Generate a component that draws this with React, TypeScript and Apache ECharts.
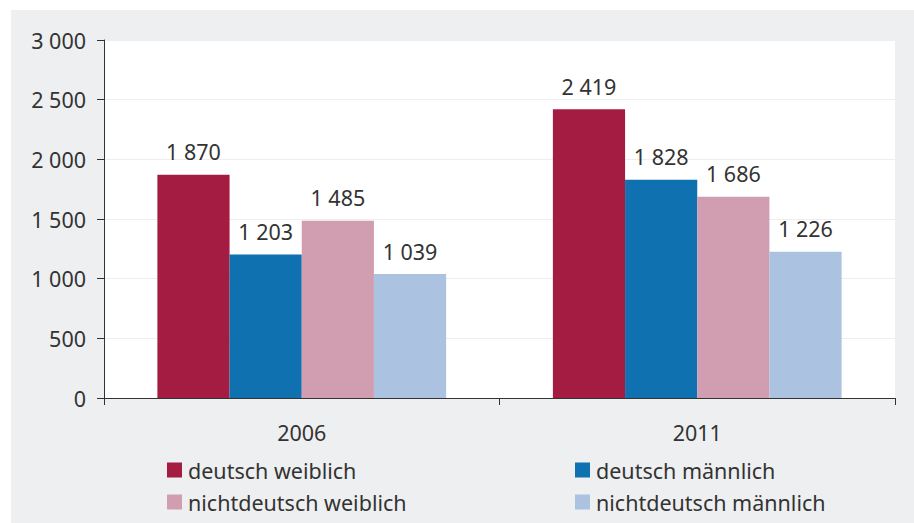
import React, { useEffect, useRef } from "react";
import * as echarts from "echarts";

const categories = ["2006", "2011"];
const seriesNames = [
  "deutsch weiblich",
  "deutsch männlich",
  "nichtdeutsch weiblich",
  "nichtdeutsch männlich",
];
const deutschWeiblich = [1870, 2419];
const deutschMaennlich = [1203, 1828];
const nichtdeutschWeiblich = [1485, 1686];
const nichtdeutschMaennlich = [1039, 1226];
const colors = ["#a51c42", "#0f71b0", "#d09db1", "#abc2e0"];

const fmt = (v: number) =>
  String(v).replace(/\B(?=(\d{3})+(?!\d))/g, " ");

const FONT = "Noto Sans";
const TXT = "#333333";
const FS = 21.5;

export default function App() {
  const ref = useRef<HTMLDivElement>(null);
  useEffect(() => {
    if (!ref.current) return;
    const chart = echarts.init(ref.current, undefined, { renderer: "svg" });
    const values = [deutschWeiblich, deutschMaennlich, nichtdeutschWeiblich, nichtdeutschMaennlich];
    const legendPos = [
      { left: 167, top: 459 },
      { left: 575, top: 459 },
      { left: 167, top: 491 },
      { left: 575, top: 491 },
    ];
    chart.setOption({
      animation: false,
      backgroundColor: "#ffffff",
      textStyle: { fontFamily: FONT },
      graphic: [
        {
          type: "rect",
          z: -10,
          silent: true,
          shape: { x: 11, y: 10, width: 903, height: 513 },
          style: { fill: "#eeeff1" },
        },
      ],
      grid: {
        left: 104,
        top: 40,
        right: 19,
        bottom: 125,
        show: true,
        backgroundColor: "#ffffff",
        borderWidth: 0,
      },
      legend: seriesNames.map((n, i) => ({
        data: [n],
        ...legendPos[i],
        orient: "horizontal",
        icon: "rect",
        itemWidth: 15,
        itemHeight: 15,
        itemGap: 0,
        padding: 0,
        selectedMode: false,
        textStyle: { color: TXT, fontSize: FS, fontFamily: FONT, padding: [0, 0, 0, 1] },
      })),
      xAxis: {
        type: "category",
        data: categories,
        axisLine: { lineStyle: { color: "#333333", width: 1 } },
        axisTick: { show: true, length: 7, lineStyle: { color: "#333333" } },
        axisLabel: { color: TXT, fontSize: FS, fontFamily: FONT, margin: 23 },
      },
      yAxis: {
        type: "value",
        min: 0,
        max: 3000,
        interval: 500,
        axisLine: { show: true, lineStyle: { color: "#333333", width: 1 } },
        axisTick: { show: true, length: 7, lineStyle: { color: "#333333" } },
        splitLine: { show: true, lineStyle: { color: "#eceef0", width: 1 } },
        axisLabel: {
          color: TXT,
          fontSize: FS,
          fontFamily: FONT,
          margin: 18,
          formatter: (v: number) => fmt(v),
        },
      },
      series: seriesNames.map((n, i) => ({
        name: n,
        type: "bar",
        data: values[i],
        barGap: "0%",
        barCategoryGap: "27%",
        itemStyle: { color: colors[i] },
        label: {
          show: true,
          position: "top",
          distance: 12,
          color: TXT,
          fontSize: FS,
          fontFamily: FONT,
          formatter: (p: any) => fmt(p.value),
        },
      })),
    });
    return () => chart.dispose();
  }, []);
  return (
    <div
      ref={ref}
      style={{ position: "absolute", left: 0, top: 0, width: 914, height: 523 }}
    />
  );
}
